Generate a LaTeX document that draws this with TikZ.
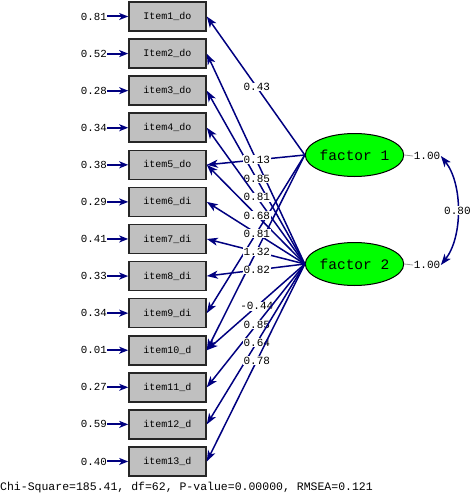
\documentclass[tikz,border=0pt]{standalone}
\usepackage{fontspec}
\setmainfont{Liberation Mono}
\usetikzlibrary{arrows.meta,shapes.geometric}
\definecolor{pathblue}{HTML}{000080}
\definecolor{boxgray}{HTML}{C0C0C0}
\definecolor{facgreen}{HTML}{00FF00}
\tikzset{
  itembox/.style={draw=black!85, line width=1.6pt, fill=boxgray, minimum width=77pt, minimum height=29pt, inner sep=0pt, font=\fontsize{10}{12}\selectfont},
  errlab/.style={inner sep=0pt, font=\fontsize{10.8}{12}\selectfont},
  factor/.style={ellipse, draw=black, line width=1pt, fill=facgreen, minimum width=78pt, minimum height=43pt, inner sep=0pt, font=\fontsize{14.5}{16}\selectfont},
  pathlab/.style={fill=white, inner sep=0.6pt, font=\fontsize{11}{12}\selectfont},
  loading/.style={draw=pathblue, line width=1.5pt, -{Stealth[length=11pt,width=8pt,inset=3pt]}},
  errarrow/.style={draw=pathblue, line width=2pt, -{Stealth[length=9pt,width=7pt,inset=2.5pt]}},
  varline/.style={draw=black!40, line width=0.8pt},
}
\begin{document}
\begin{tikzpicture}[x=1pt,y=-1pt]
\useasboundingbox (0,0) rectangle (472,495);
% items
\foreach \n/\t/\e [count=\k] in {i1/Item1\_do/0.81, i2/Item2\_do/0.52, i3/item3\_do/0.28, i4/item4\_do/0.34, i5/item5\_do/0.38, i6/item6\_di/0.29, i7/item7\_di/0.41, i8/item8\_di/0.33, i9/item9\_di/0.34, i10/item10\_d/0.01, i11/item11\_d/0.27, i12/item12\_d/0.59, i13/item13\_d/0.40}{
  \pgfmathsetmacro{\yy}{16.5+37.08*(\k-1)}
  \node[itembox] (\n) at (167.5,\yy) {\t};
  \node[errlab, anchor=east] (e\n) at (107,\yy) {\e};
  \draw[errarrow] (e\n.east) -- (\n.west);
}
% factors
\node[factor] (f1) at (354.5,155) {factor 1};
\node[factor] (f2) at (354.5,264) {factor 2};
% loadings (paths without visible labels first)
\draw[loading] (f2.west) -- (i2.east);
\draw[loading] (f1.west) -- (i9.east);
\draw[loading] (f1.west) -- (i10.east);
\draw[loading] (f1.west) -- node[pathlab, pos=0.49] {0.43} (i1.east);
\draw[loading] (f2.west) -- node[pathlab, pos=0.49] {0.85} (i3.east);
\draw[loading] (f2.west) -- node[pathlab, pos=0.49] {0.81} (i4.east);
\draw[loading] (f2.west) -- node[pathlab, pos=0.49] {0.68} (i5.east);
\draw[loading] (f2.west) -- node[pathlab, pos=0.49] {0.81} (i6.east);
\draw[loading] (f2.west) -- node[pathlab, pos=0.49] {1.32} (i7.east);
\draw[loading] (f2.west) -- node[pathlab, pos=0.49] {0.82} (i8.east);
\draw[loading] (f2.west) -- node[pathlab, pos=0.49] {-0.44} (i10.east);
\draw[loading] (f2.west) -- node[pathlab, pos=0.49] {0.85} (i11.east);
\draw[loading] (f2.west) -- node[pathlab, pos=0.49] {0.64} (i12.east);
\draw[loading] (f2.west) -- node[pathlab, pos=0.49] {0.78} (i13.east);
\draw[loading] (f1.west) -- node[pathlab, pos=0.49] {0.13} (i5.east);
% variances
\node[pathlab, inner sep=0.5pt] (v1) at (427,156) {1.00};
\node[pathlab, inner sep=0.5pt] (v2) at (427,265) {1.00};
\draw[varline] (f1.east) -- (v1.west);
\draw[varline] (f2.east) -- (v2.west);
\draw[draw=pathblue, line width=1.5pt, {Stealth[length=11pt,width=8pt,inset=3pt]}-{Stealth[length=11pt,width=8pt,inset=3pt]}]
  (v1.east) .. controls +(22,28) and +(22,-28) .. node[pathlab, pos=0.5] {0.80} (v2.east);
% fit statistics
\node[anchor=west, inner sep=0pt, font=\fontsize{11.5}{13}\selectfont] (fit) at (0,488) {Chi-Square=185.41, df=62, P-value=0.00000, RMSEA=0.121};
\end{tikzpicture}
\end{document}
